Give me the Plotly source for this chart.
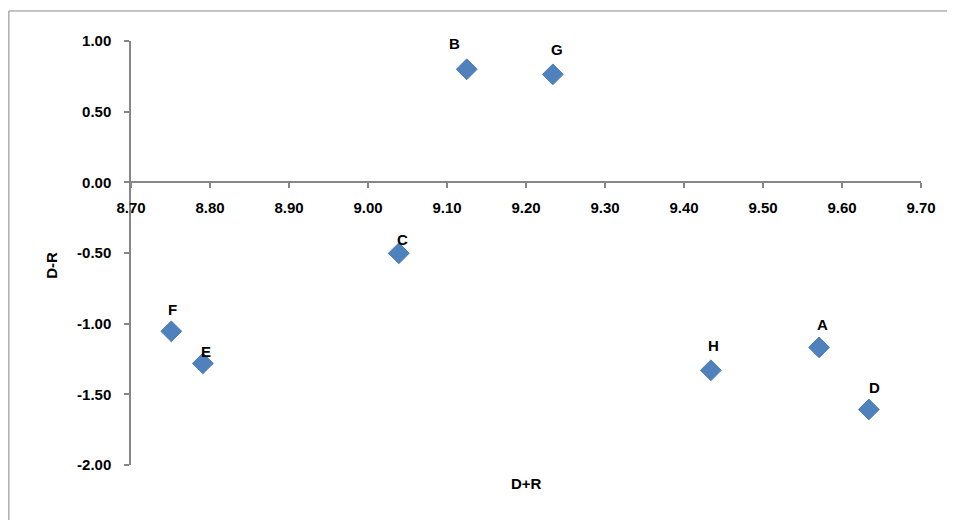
import plotly.graph_objects as go

names = ["A", "B", "C", "D", "E", "F", "G", "H"]
d_plus_r = [9.571, 9.125, 9.039, 9.634, 8.791, 8.751, 9.234, 9.434]
d_minus_r = [-1.168, 0.80, -0.502, -1.607, -1.281, -1.054, 0.764, -1.330]

x_ticks = [8.70, 8.80, 8.90, 9.00, 9.10, 9.20, 9.30, 9.40, 9.50, 9.60, 9.70]
y_ticks = [-2.00, -1.50, -1.00, -0.50, 0.00, 0.50, 1.00]

# label offsets in pixels (dx, dy upward)
label_offsets = {"A": (3, 23), "B": (-12, 26), "C": (4, 14), "D": (6, 22),
                 "E": (3, 12), "F": (1, 22), "G": (4, 25), "H": (3, 25)}

FONT = "Liberation Sans"
GRAY = "#868686"

fig = go.Figure()
fig.add_trace(go.Scatter(
    x=d_plus_r, y=d_minus_r, mode="markers",
    marker=dict(symbol="diamond", size=16, color="#4F81BD",
                line=dict(color="#4A7EBB", width=1)),
    showlegend=False, hoverinfo="skip"))

for n, xv, yv in zip(names, d_plus_r, d_minus_r):
    dx, dy = label_offsets[n]
    fig.add_annotation(x=xv, y=yv, xref="x", yref="y", text=f"<b>{n}</b>",
                       showarrow=False, xshift=dx, yshift=dy,
                       font=dict(family=FONT, size=15, color="black"))

fig.add_annotation(x=0.5, y=-0.02, xref="paper", yref="paper", text="<b>D+R</b>",
                   showarrow=False, yanchor="top", xanchor="center",
                   font=dict(family=FONT, size=15, color="black"))
fig.add_annotation(x=-0.1, y=0.47, xref="paper", yref="paper", text="<b>D-R</b>",
                   showarrow=False, textangle=-90, xanchor="center", yanchor="middle",
                   font=dict(family=FONT, size=15, color="black"))

# outer chart-area border (top and left edges visible)
fig.add_shape(type="line", xref="paper", yref="paper",
              x0=-0.1546, x1=1.05, y0=1.0708, y1=1.0708,
              line=dict(color=GRAY, width=1), layer="below")
fig.add_shape(type="line", xref="paper", yref="paper",
              x0=-0.1546, x1=-0.1546, y0=-0.2, y1=1.0708,
              line=dict(color=GRAY, width=1), layer="below")

fig.update_layout(
    width=947, height=512,
    margin=dict(l=123, r=34, t=33, b=55),
    paper_bgcolor="white", plot_bgcolor="white",
    font=dict(family=FONT, size=15, color="black"),
    xaxis=dict(range=[8.70, 9.70], tickvals=x_ticks,
               ticktext=[f"<b>{v:.2f}</b>" for v in x_ticks],
               anchor="free", position=2/3, side="bottom",
               showline=True, linecolor=GRAY, linewidth=1.5,
               ticks="outside", ticklen=5, tickcolor=GRAY, tickwidth=1.5,
               showgrid=False, zeroline=False, ticklabelstandoff=7),
    yaxis=dict(range=[-2.0, 1.0], tickvals=y_ticks,
               ticktext=[f"<b>{v:.2f}</b>" for v in y_ticks],
               showline=True, linecolor=GRAY, linewidth=1.5,
               ticks="outside", ticklen=5, tickcolor=GRAY, tickwidth=1.5,
               showgrid=False, zeroline=False, ticklabelstandoff=10),
)

fig.write_html("out.html")
